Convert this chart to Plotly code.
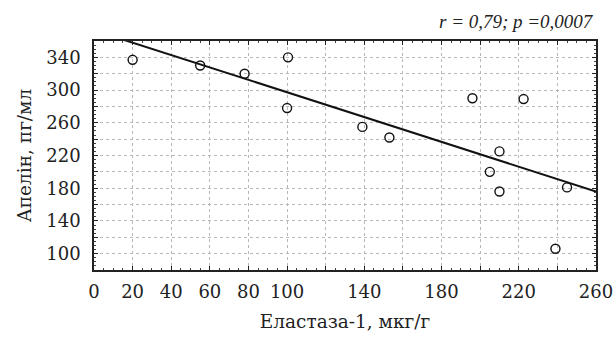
import numpy as np
import plotly.graph_objects as go

# Data
elastase = [20, 55, 78, 100.5, 100, 139, 153, 196, 222.5, 210, 205, 210, 245, 239]
apelin = [337, 330, 320, 340, 278, 255, 242, 290, 289, 225, 200, 176, 181, 106]

# Regression line (intercept, slope)
fit_intercept = 373.1
fit_slope = -0.758
fit_x = [0, 260]

x_tickvals = [0, 20, 40, 60, 80, 100, 120, 140, 160, 180, 200, 220, 240, 260]
x_ticktext = ["0", "20", "40", "60", "80", "100", "", "140", "", "180", "", "220", "", "260"]
y_tickvals = [100, 120, 140, 160, 180, 200, 220, 240, 260, 280, 300, 320, 340]
y_ticktext = ["100", "", "140", "", "180", "", "220", "", "260", "", "300", "", "340"]

annotation_text = "r = 0,79; p =0,0007"
x_title = "Еластаза-1, мкг/г"
y_title = "Апелін, пг/мл"

serif = "'DejaVu Serif', 'Liberation Serif', serif"
times = "'Liberation Serif', 'DejaVu Serif', serif"

fx = np.array(fit_x, dtype=float)
fy = fit_intercept + fit_slope * fx

fig = go.Figure()
fig.add_trace(go.Scatter(x=fx, y=fy, mode="lines",
                         line=dict(color="#111111", width=2), showlegend=False,
                         hoverinfo="skip"))
fig.add_trace(go.Scatter(x=elastase, y=apelin, mode="markers",
                         marker=dict(symbol="circle-open", size=9,
                                     color="#111111", line=dict(width=1.4, color="#111111")),
                         showlegend=False))

axis_common = dict(
    showline=True, linecolor="#222222", linewidth=1.5, mirror="allticks",
    ticks="inside", ticklen=4, tickcolor="#222222", tickwidth=1,
    showgrid=True, gridcolor="#b8b8b8", griddash="dot", gridwidth=1,
    zeroline=False, automargin=False,
    tickfont=dict(family=serif, size=18, color="#222222"),
    minor=dict(ticks="inside", ticklen=2, dtick=5, tickcolor="#444444", showgrid=False),
)

fig.update_xaxes(range=[0, 260], tickmode="array", tickvals=x_tickvals, ticktext=x_ticktext,
                 title=dict(text=x_title, font=dict(family=serif, size=18.5, color="#222222"), standoff=14),
                 ticklabelstandoff=5, **axis_common)
fig.update_yaxes(range=[80, 360], tickmode="array", tickvals=y_tickvals, ticktext=y_ticktext,
                 title=dict(text=y_title, font=dict(family=serif, size=18.5, color="#222222"), standoff=10),
                 ticklabelstandoff=8, **axis_common)

fig.add_annotation(text=annotation_text, xref="paper", yref="paper", x=1, y=1,
                   xanchor="right", yanchor="bottom", yshift=7, showarrow=False,
                   font=dict(family=times, size=19, color="#222222", style="italic"))

fig.update_layout(width=616, height=340, margin=dict(l=94, r=20, t=41, b=70),
                  paper_bgcolor="white", plot_bgcolor="white",
                  font=dict(family=serif))

fig.write_html("out.html", config={"displayModeBar": False},
               post_script="document.body.style.margin='0';document.body.style.overflow='hidden';")
